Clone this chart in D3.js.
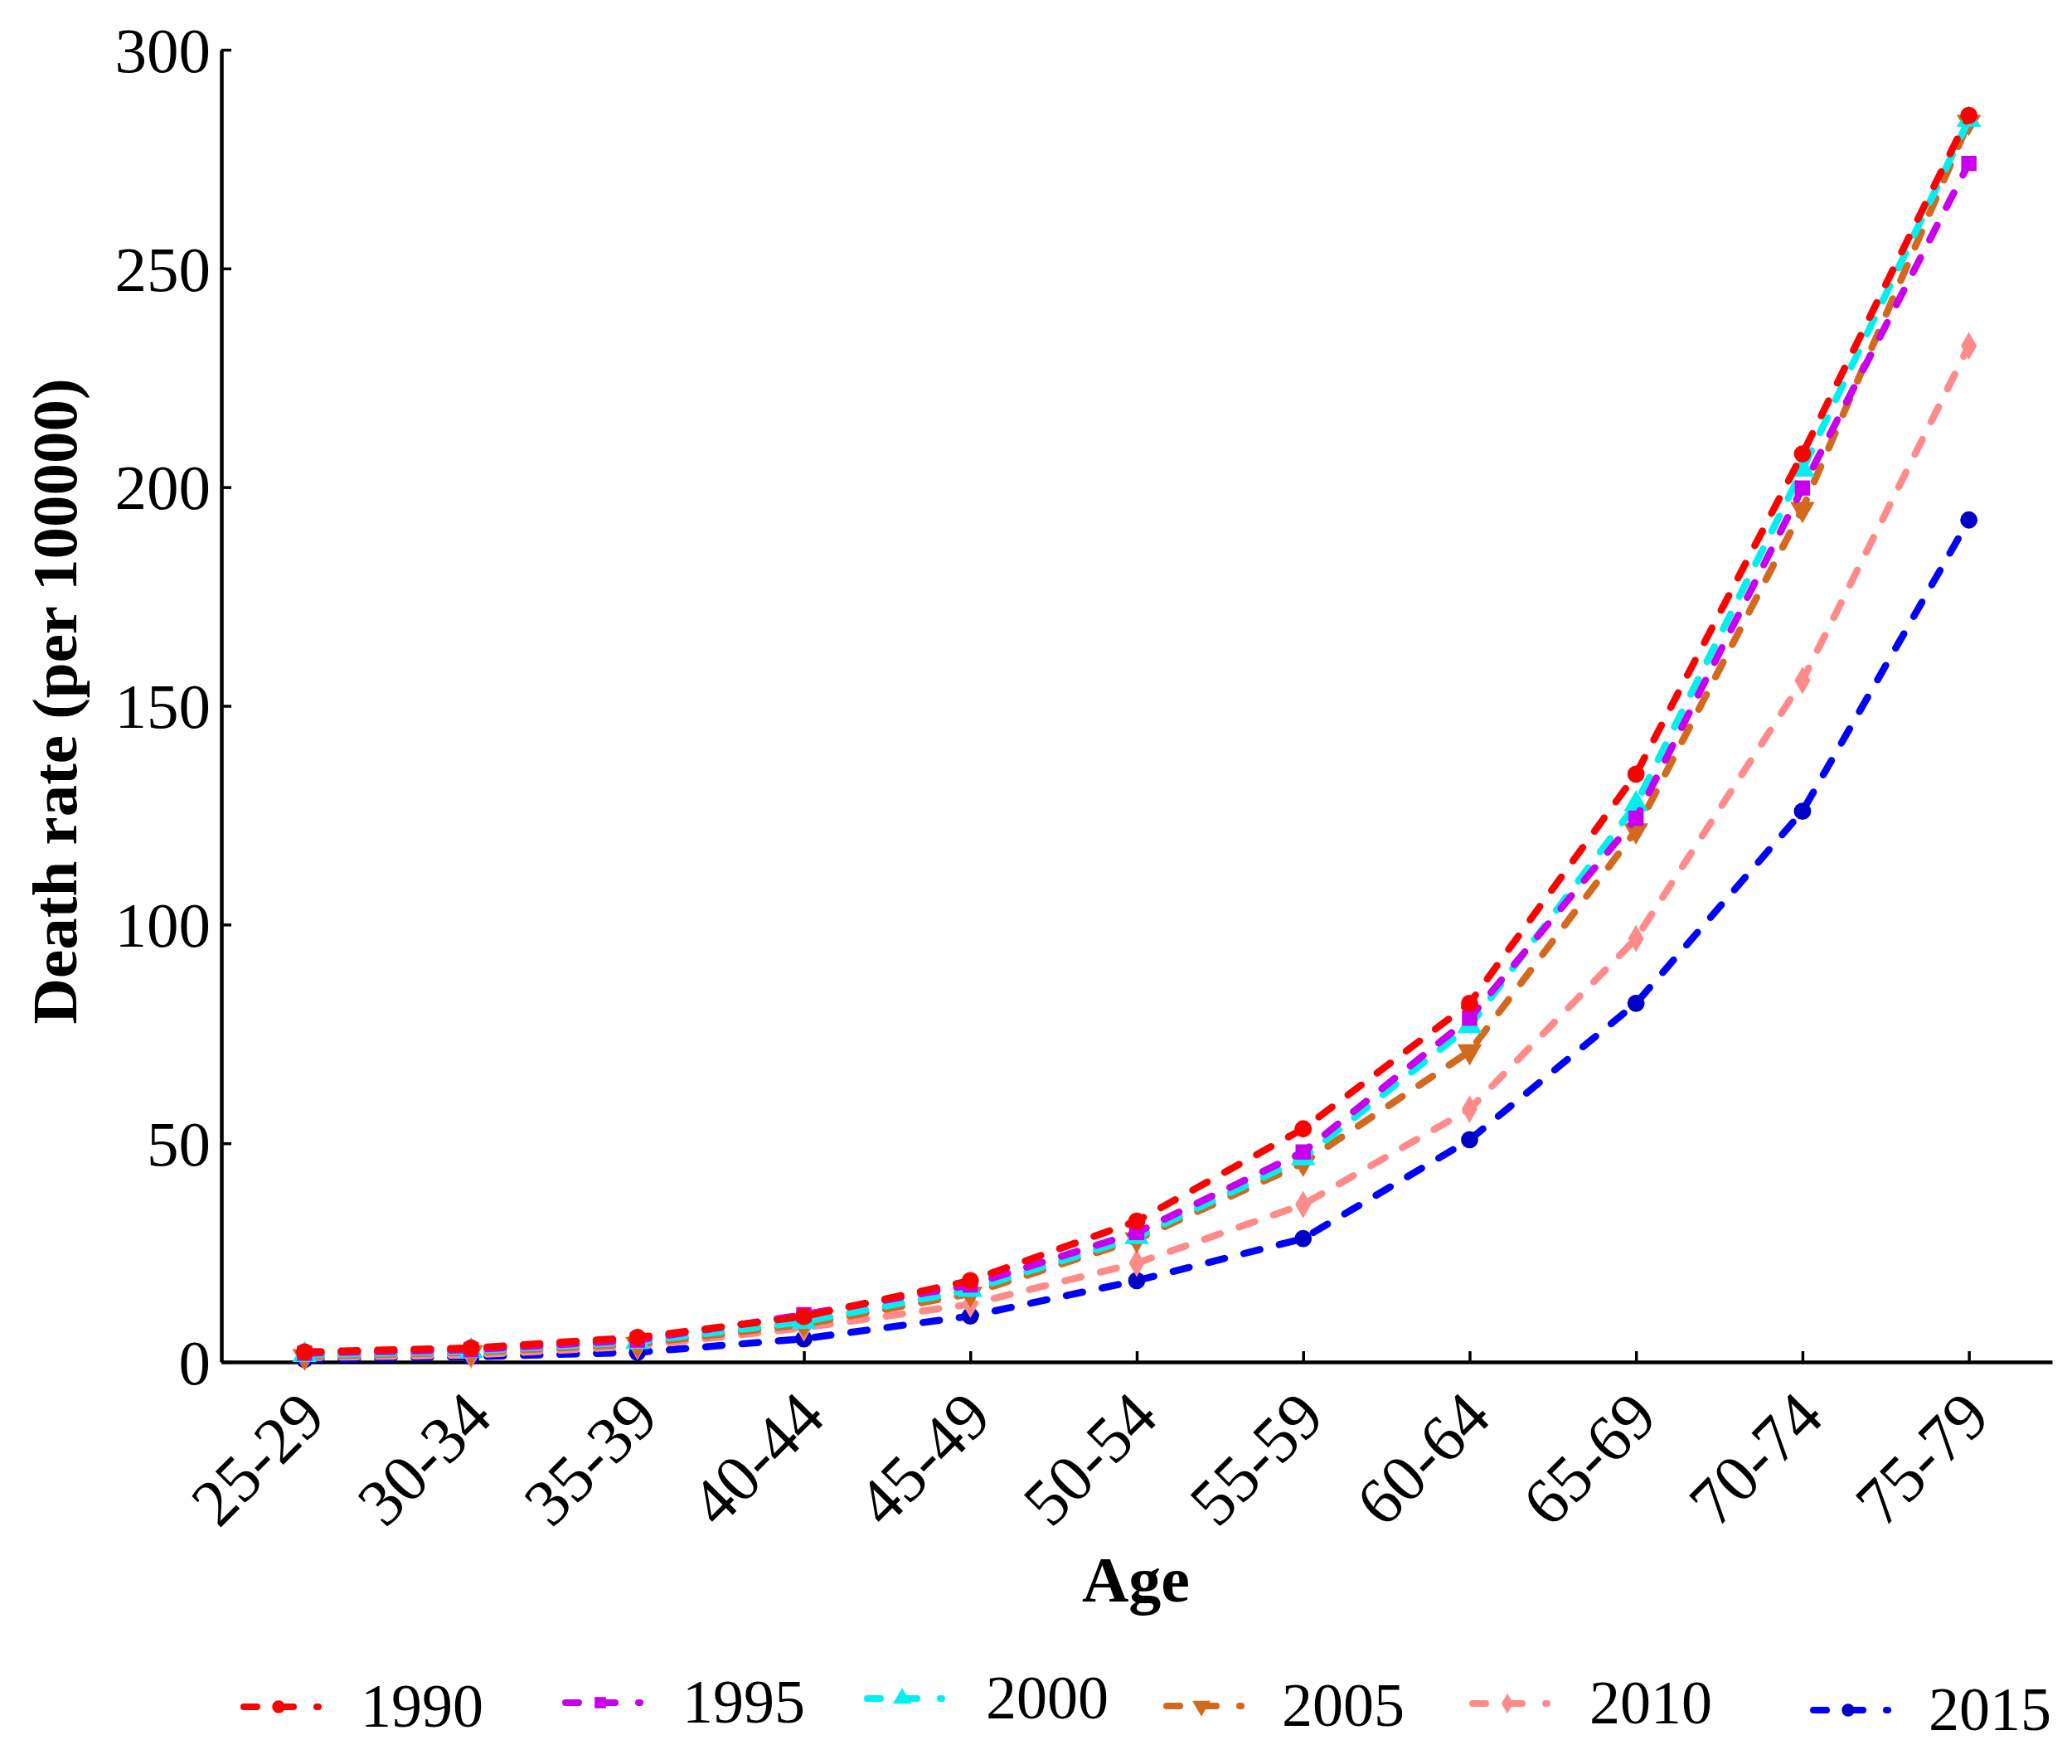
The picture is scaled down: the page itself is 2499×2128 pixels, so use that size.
<!DOCTYPE html>
<html>
<head>
<meta charset="utf-8">
<script src="https://cdn.jsdelivr.net/npm/d3@7"></script>
<style>
  html, body { margin: 0; padding: 0; background: #fff; }
  svg { display: block; }
</style>
</head>
<body>
<svg id="chart" width="2499" height="2128"></svg>
<script>
// ---- data ----
const ageGroups = ["25-29","30-34","35-39","40-44","45-49","50-54","55-59","60-64","65-69","70-74","75-79"];
const years = ["1990","1995","2000","2005","2010","2015"];
const rate1990 = [2.3, 3.2, 5.6, 10.4, 18.6, 32.2, 53.3, 82.0, 134.4, 207.6, 285.0];
const rate1995 = [2.0, 2.8, 5.0, 10.8, 17.6, 29.6, 48.0, 78.6, 124.3, 199.8, 274.0];
const rate2000 = [1.6, 2.5, 4.6, 9.2, 16.5, 28.6, 46.6, 76.8, 127.5, 204.0, 284.0];
const rate2005 = [1.3, 2.2, 4.1, 8.6, 15.6, 28.0, 45.5, 71.0, 121.5, 195.0, 283.5];
const rate2010 = [1.0, 1.6, 3.6, 7.8, 13.2, 22.6, 36.0, 57.8, 96.8, 155.8, 232.3];
const rate2015 = [0.6, 1.2, 2.2, 5.3, 10.5, 18.6, 28.2, 50.8, 82.0, 125.9, 192.5];
const yTicks = [0, 50, 100, 150, 200, 250, 300];
const xTitle = "Age";
const yTitle = "Death rate (per 100000)";

// ---- styling ----
const seriesValues = [rate1990, rate1995, rate2000, rate2005, rate2010, rate2015];
const lineColors   = ["#FF0000", "#C800EE", "#00F0F0", "#D2691E", "#FF8A8A", "#0000FF"];
const markerColors = ["#FF0000", "#C800EE", "#00F0F0", "#D2691E", "#FF8A8A", "#0000C8"];
const markerTypes  = [d3.symbolCircle, d3.symbolSquare, d3.symbolTriangle, d3.symbolTriangle, d3.symbolDiamond, d3.symbolCircle];
const markerRotate = [0, 0, 0, 180, 0, 0];
const markerSizes  = [340, 340, 380, 380, 320, 340];
// legend layout (line start x, text x, text baseline y)
const legendLayout = [
  {lx: 290, tx: 435, ty: 2083},
  {lx: 678, tx: 823, ty: 2078},
  {lx: 1042, tx: 1189, ty: 2073},
  {lx: 1403, tx: 1546, ty: 2082},
  {lx: 1772, tx: 1917, ty: 2079},
  {lx: 2183, tx: 2326, ty: 2087}
];

const FONT = "'Liberation Serif', 'Times New Roman', serif";
const svg = d3.select("#chart");

const x = d3.scalePoint().domain(ageGroups).range([267, 2475]).padding(0.5);
const y = d3.scaleLinear().domain([0, 300]).range([1643, 60]);

// axes
const yAxis = d3.axisLeft(y).tickValues(yTicks).tickSizeInner(-12).tickSizeOuter(0).tickPadding(13);
const gy = svg.append("g").attr("transform", "translate(267,0)").call(yAxis);
gy.select(".domain").attr("stroke", "#000").attr("stroke-width", 4.5);
gy.selectAll(".tick line").attr("stroke", "#000").attr("stroke-width", 3.5);
gy.selectAll(".tick text").attr("font-family", FONT).attr("font-size", 77).attr("fill", "#000").attr("dy", "0.34em");

const xAxis = d3.axisBottom(x).tickSizeInner(-13).tickSizeOuter(0);
const gx = svg.append("g").attr("transform", "translate(0,1643)").call(xAxis);
gx.select(".domain").attr("stroke", "#000").attr("stroke-width", 4.5);
gx.selectAll(".tick line").attr("stroke", "#000").attr("stroke-width", 3.5);
gx.selectAll(".tick text")
  .attr("font-family", FONT).attr("font-size", 80).attr("fill", "#000")
  .attr("x", 0).attr("y", 0).attr("dy", 0)
  .attr("text-anchor", "end")
  .attr("transform", "translate(28,70) rotate(-45)");

// titles
svg.append("text").attr("x", 1370).attr("y", 1932).attr("text-anchor", "middle")
  .attr("font-family", FONT).attr("font-weight", "bold").attr("font-size", 78).text(xTitle);
svg.append("text").attr("transform", "translate(92,846) rotate(-90)").attr("text-anchor", "middle")
  .attr("font-family", FONT).attr("font-weight", "bold").attr("font-size", 77).text(yTitle);

// series (draw last year first so 1990 is on top)
const line = d3.line().x((d, i) => x(ageGroups[i])).y(d => y(d));
const order = [5, 4, 3, 2, 1, 0];
order.forEach(s => {
  const g = svg.append("g");
  g.append("path").datum(seriesValues[s]).attr("d", line)
    .attr("fill", "none").attr("stroke", lineColors[s]).attr("stroke-width", 8.5)
    .attr("stroke-dasharray", "20,24").attr("stroke-linecap", "round");
  g.selectAll("path.m").data(seriesValues[s]).join("path").attr("class", "m")
    .attr("d", d3.symbol().type(markerTypes[s]).size(markerSizes[s]))
    .attr("transform", (d, i) => `translate(${x(ageGroups[i])},${y(d)}) rotate(${markerRotate[s]})`)
    .attr("fill", markerColors[s]);
});

// legend
years.forEach((yr, s) => {
  const L = legendLayout[s];
  const ly = L.ty - 24;
  const g = svg.append("g");
  g.append("line").attr("x1", L.lx + 4).attr("x2", L.lx + 94).attr("y1", ly).attr("y2", ly)
    .attr("stroke", lineColors[s]).attr("stroke-width", 8)
    .attr("stroke-dasharray", "16,28").attr("stroke-linecap", "round");
  g.append("path").attr("d", d3.symbol().type(markerTypes[s]).size(markerSizes[s] * 0.55))
    .attr("transform", `translate(${L.lx + 46},${ly}) rotate(${markerRotate[s]})`)
    .attr("fill", markerColors[s]);
  g.append("text").attr("x", L.tx).attr("y", L.ty)
    .attr("font-family", FONT).attr("font-size", 74).attr("fill", "#000").text(yr);
});
</script>
</body>
</html>
